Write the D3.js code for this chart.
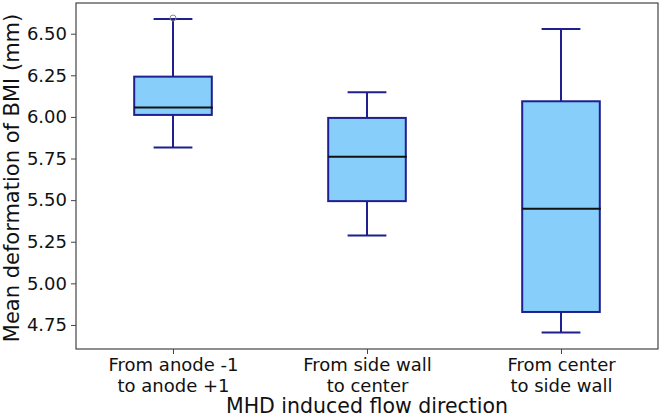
<!DOCTYPE html>
<html>
<head>
<meta charset="utf-8">
<script src="https://cdn.jsdelivr.net/npm/d3@7"></script>
<style>
  body { margin: 0; background: #fff; }
  svg { font-family: "DejaVu Sans", sans-serif; display: block; }
</style>
</head>
<body>
<div id="chart"></div>
<script>
// categories (two-line tick labels) and box stats
var categories = [["From anode -1", "to anode +1"], ["From side wall", "to center"], ["From center", "to side wall"]];
var whiskLow  = [5.816, 5.288, 4.704];
var q1        = [6.012, 5.494, 4.828];
var medians   = [6.056, 5.760, 5.448];
var q3        = [6.242, 5.994, 6.094];
var whiskHigh = [6.588, 6.148, 6.528];
var fliers    = [[6.594], [], []];
var yTicks = [4.75, 5.00, 5.25, 5.50, 5.75, 6.00, 6.25, 6.50];

(function() {
  var w = 661,
      h = 417,
      margin = {top: 3, right: 3, bottom: 68, left: 76};
  var iw = w - margin.left - margin.right,
      ih = h - margin.top - margin.bottom;

  var svg = d3.select("#chart")
    .append("svg")
    .attr("width", w)
    .attr("height", h)
    .append("g")
    .attr("transform", "translate(" + margin.left + "," + margin.top + ")");

  // x runs 0.5..3.5 like matplotlib positions 1..3
  var x = d3.scaleLinear().domain([0.5, 3.5]).range([0, iw]);
  var y = d3.scaleLinear().domain([4.6055, 6.6845]).range([ih, 0]);

  var boxW = x(1.4) - x(1.0),
      capW = boxW / 2;
  var edge = "#1f1f8f";

  var data = categories.map(function(c, i) {
    return {pos: i + 1, lo: whiskLow[i], q1: q1[i], med: medians[i], q3: q3[i], hi: whiskHigh[i], fl: fliers[i]};
  });

  var box = svg.selectAll(".box")
    .data(data)
    .enter().append("g")
    .attr("class", "box");

  // whiskers
  box.append("line")
    .attr("x1", function(d) { return x(d.pos) }).attr("x2", function(d) { return x(d.pos) })
    .attr("y1", function(d) { return y(d.q3) }).attr("y2", function(d) { return y(d.hi) })
    .attr("stroke", edge).attr("stroke-width", 2);
  box.append("line")
    .attr("x1", function(d) { return x(d.pos) }).attr("x2", function(d) { return x(d.pos) })
    .attr("y1", function(d) { return y(d.q1) }).attr("y2", function(d) { return y(d.lo) })
    .attr("stroke", edge).attr("stroke-width", 2);
  // caps
  ["hi", "lo"].forEach(function(k) {
    box.append("line")
      .attr("x1", function(d) { return x(d.pos) - capW / 2 }).attr("x2", function(d) { return x(d.pos) + capW / 2 })
      .attr("y1", function(d) { return y(d[k]) }).attr("y2", function(d) { return y(d[k]) })
      .attr("stroke", edge).attr("stroke-width", 2);
  });

  box.append("rect")
    .attr("x", function(d) { return x(d.pos) - boxW / 2 })
    .attr("width", boxW)
    .attr("y", function(d) { return y(d.q3) })
    .attr("height", function(d) { return y(d.q1) - y(d.q3) })
    .attr("fill", "#87cefa")
    .attr("stroke", edge)
    .attr("stroke-width", 2);

  box.append("line")
    .attr("x1", function(d) { return x(d.pos) - boxW / 2 }).attr("x2", function(d) { return x(d.pos) + boxW / 2 + 1 })
    .attr("y1", function(d) { return y(d.med) }).attr("y2", function(d) { return y(d.med) })
    .attr("stroke", "#111").attr("stroke-width", 2);

  box.selectAll(".flier")
    .data(function(d) { return d.fl.map(function(v) { return {pos: d.pos, v: v} }) })
    .enter().append("circle")
    .attr("class", "flier")
    .attr("cx", function(d) { return x(d.pos) })
    .attr("cy", function(d) { return y(d.v) })
    .attr("r", 3)
    .attr("fill", "none")
    .attr("stroke", "#888")
    .attr("stroke-width", 1);

  // frame
  svg.append("rect")
    .attr("width", iw).attr("height", ih)
    .attr("fill", "none").attr("stroke", "#444").attr("stroke-width", 1.2);

  // y axis
  var yAxis = svg.append("g")
    .call(d3.axisLeft(y).tickValues(yTicks).tickFormat(d3.format(".2f")).tickSize(5).tickPadding(4));
  yAxis.select(".domain").remove();
  yAxis.selectAll("line").attr("stroke", "#444");
  yAxis.selectAll("text").attr("font-size", 18).attr("fill", "#111").attr("font-family", "DejaVu Sans");

  // x axis with two-line labels
  var xAxis = svg.append("g")
    .attr("transform", "translate(0," + ih + ")")
    .call(d3.axisBottom(x).tickValues([1, 2, 3]).tickSize(5).tickFormat(""));
  xAxis.select(".domain").remove();
  xAxis.selectAll("line").attr("stroke", "#444");
  xAxis.selectAll(".tick").append("text")
    .attr("fill", "#111")
    .attr("font-size", 18)
    .attr("font-family", "DejaVu Sans")
    .attr("text-anchor", "middle")
    .selectAll("tspan")
    .data(function(d) { return categories[d - 1] })
    .enter().append("tspan")
    .attr("x", 0)
    .attr("y", function(d, i) { return 22 + i * 20.5 })
    .text(function(d) { return d });

  svg.append("text")
    .attr("x", iw / 2)
    .attr("y", ih + 64)
    .attr("text-anchor", "middle")
    .attr("font-size", 20.5)
    .attr("fill", "#111")
    .text("MHD induced flow direction");

  svg.append("text")
    .attr("transform", "translate(" + (-margin.left + 19) + "," + (ih / 2 + 2) + ") rotate(-90)")
    .attr("text-anchor", "middle")
    .attr("font-size", 21)
    .attr("fill", "#111")
    .text("Mean deformation of BMI (mm)");
})();
</script>
</body>
</html>
